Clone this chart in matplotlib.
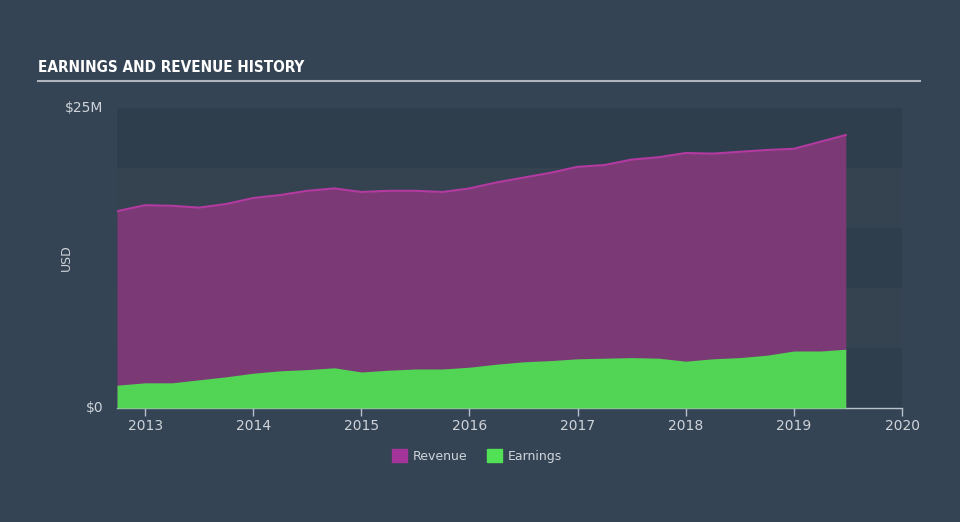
import matplotlib.pyplot as plt
from matplotlib.patches import Patch

# 資料 (單位: 百萬美元)
years = [2012.74, 2013.0, 2013.25, 2013.5, 2013.75, 2014.0, 2014.25, 2014.5, 2014.75,
         2015.0, 2015.25, 2015.5, 2015.75, 2016.0, 2016.25, 2016.5, 2016.75,
         2017.0, 2017.25, 2017.5, 2017.75, 2018.0, 2018.25, 2018.5, 2018.75,
         2019.0, 2019.25, 2019.48]
revenue = [16.4, 16.9, 16.85, 16.7, 17.0, 17.5, 17.75, 18.1, 18.3,
           18.0, 18.1, 18.1, 18.0, 18.3, 18.8, 19.2, 19.6,
           20.1, 20.25, 20.7, 20.9, 21.25, 21.2, 21.35, 21.5,
           21.6, 22.2, 22.75]
earnings = [1.9, 2.1, 2.1, 2.35, 2.6, 2.9, 3.1, 3.2, 3.35,
            3.0, 3.15, 3.25, 3.25, 3.4, 3.65, 3.85, 3.95,
            4.1, 4.15, 4.2, 4.15, 3.9, 4.1, 4.2, 4.4,
            4.75, 4.75, 4.9]
year_ticks = [2013, 2014, 2015, 2016, 2017, 2018, 2019, 2020]

bg = "#344454"
fig = plt.figure(figsize=(9.6, 5.22), dpi=100, facecolor=bg)
ax = fig.add_axes([117 / 960, 114 / 522, 785 / 960, 300 / 522])
ax.set_facecolor(bg)

# 背景條紋
for i in range(5):
    c = "#2f3e4d" if i % 2 == 0 else "#34434f"
    ax.axhspan(i * 5, (i + 1) * 5, color=c, zorder=0, lw=0)

# 面積圖
ax.fill_between(years, 0, revenue, color="#7b3a76", lw=0, zorder=2)
ax.plot(years, revenue, color="#b23aa0", lw=1.5, zorder=3)
ax.fill_between(years, 0, earnings, color="#52d454", lw=0, zorder=4)

ax.set_xlim(2012.74, 2020)
ax.set_ylim(0, 25)

for s in ["top", "right", "left"]:
    ax.spines[s].set_visible(False)
ax.spines["bottom"].set_color("#b8c0cc")
ax.spines["bottom"].set_linewidth(1)

ax.set_xticks(year_ticks)
ax.set_xticklabels([str(y) for y in year_ticks])
ax.tick_params(axis="x", colors="#b8c0cc", labelcolor="#d0d4da", labelsize=10, length=6, width=1, pad=2)
ax.set_yticks([0, 25])
ax.set_yticklabels(["$0", "$25M"])
ax.tick_params(axis="y", length=0, labelcolor="#d0d4da", labelsize=10, pad=10)
for lbl in ax.get_yticklabels():
    lbl.set_verticalalignment("center")
ax.set_ylabel("USD", color="#d0d4da", fontsize=9)
ax.yaxis.set_label_coords(-0.056, 0.5)

# 標題
fig.text(38 / 960, 1 - 68 / 522, "EARNINGS AND REVENUE HISTORY", color="white",
         fontsize=11, fontweight="bold", family="DejaVu Sans", fontstretch="condensed",
         va="center", ha="left")
fig.add_artist(plt.Line2D([38 / 960, 920 / 960], [1 - 81 / 522, 1 - 81 / 522],
                          color="#b0b6c0", lw=1.5))

# 圖例
handles = [Patch(color="#a4349a", label="Revenue"), Patch(color="#52e055", label="Earnings")]
fig.legend(handles=handles, loc="center", bbox_to_anchor=(477 / 960, 1 - 456 / 522), ncol=2,
           frameon=False, fontsize=9, labelcolor="#d0d4da", handlelength=1.2, handleheight=1.2,
           columnspacing=1.5, handletextpad=0.5)

plt.savefig("out.png", dpi=100, facecolor=bg)
plt.close()
